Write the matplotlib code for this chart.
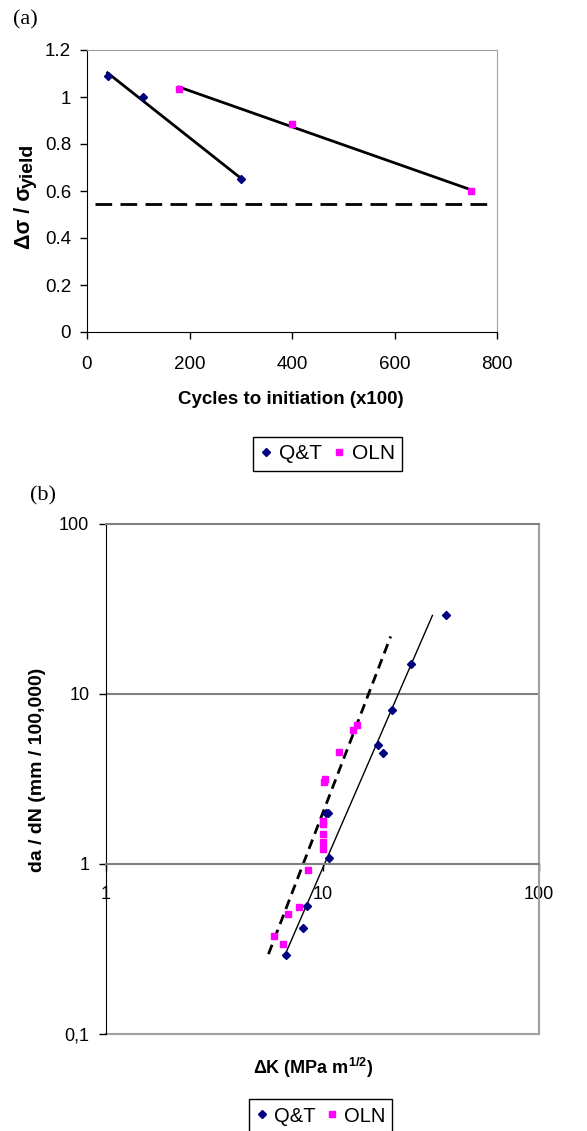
import numpy as np
import matplotlib.pyplot as plt
from matplotlib.lines import Line2D
from matplotlib.ticker import NullLocator

plt.rcParams['font.family'] = 'Liberation Sans'
plt.rcParams['mathtext.fontset'] = 'custom'
plt.rcParams['mathtext.rm'] = 'Liberation Sans'
plt.rcParams['mathtext.it'] = 'Liberation Sans:italic'
plt.rcParams['mathtext.bf'] = 'Liberation Sans:bold'

# (a) initiation data
qt_cycles = [40, 110, 300]
qt_stress = [1.09, 1.0, 0.65]
oln_cycles = [180, 400, 750]
oln_stress = [1.035, 0.885, 0.60]
endurance = 0.545
endurance_span = [15, 793]

# (b) crack growth data
qt_dk = [6.78, 8.15, 8.5, 10.4, 10.6, 10.7, 18.0, 19.0, 21.0, 25.7, 37.1]
qt_rate = [0.29, 0.42, 0.57, 2.0, 2.0, 1.09, 5.0, 4.5, 8.1, 15.1, 29.1]
oln_dk = [6.0, 6.57, 6.95, 7.79, 8.54, 10.0, 10.0, 10.0, 10.0, 10.0,
          10.2, 10.3, 11.9, 13.8, 14.4]
oln_rate = [0.378, 0.338, 0.51, 0.56, 0.92, 1.22, 1.34, 1.51, 1.71, 1.79,
            3.02, 3.16, 4.55, 6.1, 6.55]
qt_trend_dk = [6.64, 32.2]
qt_trend_rate = [0.283, 29.0]
oln_trend_dk = [5.63, 20.65]
oln_trend_rate = [0.295, 21.8]

navy = '#000080'
magenta = '#FF00FF'
W, H = 587, 1131

fig = plt.figure(figsize=(W / 100, H / 100), dpi=100)

# ---------- panel (a) ----------
ax1 = fig.add_axes([87 / W, 1 - 332 / H, 410 / W, 282 / H])
for xs, ys in [(qt_cycles, qt_stress), (oln_cycles, oln_stress)]:
    p = np.polyfit(xs, ys, 1)
    xx = np.array([xs[0], xs[-1]])
    ax1.plot(xx, np.polyval(p, xx), color='black', lw=2, zorder=2)
ax1.plot(qt_cycles, qt_stress, ls='none', marker='D', ms=4.5, color=navy, zorder=3)
ax1.plot(oln_cycles, oln_stress, ls='none', marker='s', ms=5, color=magenta, zorder=3)
ax1.plot(endurance_span, [endurance, endurance], color='black', lw=2,
         ls=(0, (6, 3)))
ax1.set_xlim(0, 800)
ax1.set_ylim(0, 1.2)
ax1.set_xticks([0, 200, 400, 600, 800])
ax1.set_yticks([0, 0.2, 0.4, 0.6, 0.8, 1.0, 1.2])
ax1.set_yticklabels(['0', '0.2', '0.4', '0.6', '0.8', '1', '1.2'])
ax1.tick_params(axis='both', direction='out', length=5, width=1, labelsize=13.5)
ax1.tick_params(axis='x', pad=12.5)
ax1.tick_params(axis='y', pad=6.5)
for s in ['top', 'right']:
    ax1.spines[s].set_color('#a0a0a0')
for s in ['left', 'bottom']:
    ax1.spines[s].set_color('black')

fig.text(13 / W, 1 - 20 / H, '(a)', family='Liberation Serif', fontsize=16,
         ha='left', va='center')
fig.text(291 / W, 1 - 400 / H, 'Cycles to initiation (x100)', fontsize=13.5,
         fontweight='bold', ha='center', va='center')
# y label of (a): main part plus a lowered "yield" subscript
fig.text(24 / W, 1 - 249 / H, 'Δσ / σ', fontsize=15.5, fontweight='bold',
         rotation=90, ha='center', va='bottom')
fig.text(28 / W, 1 - 188 / H, 'yield', fontsize=14, fontweight='bold',
         rotation=90, ha='center', va='bottom')

h_qt = Line2D([], [], ls='none', marker='D', ms=4.5, color=navy)
h_oln = Line2D([], [], ls='none', marker='s', ms=5, color=magenta)
leg = fig.legend([h_qt, h_oln], ['Q&T', 'OLN'], loc='center',
                 bbox_to_anchor=(327.5 / W, 1 - 454 / H), ncol=2,
                 fancybox=False, edgecolor='black', framealpha=1, fontsize=15,
                 handlelength=0.6, handletextpad=0.3, columnspacing=0.55,
                 borderpad=0.35)
leg.get_frame().set_linewidth(1)

# ---------- panel (b) ----------
ax2 = fig.add_axes([106 / W, 1 - 1034 / H, 433 / W, 510 / H])
ax2.set_xscale('log')
ax2.set_yscale('log')
ax2.plot(qt_trend_dk, qt_trend_rate, color='black', lw=1, zorder=2)
ax2.plot(oln_trend_dk, oln_trend_rate, color='black', lw=2,
         ls=(0, (3.6, 2.2)), zorder=2)
ax2.plot(oln_dk, oln_rate, ls='none', marker='s', ms=5, color=magenta, zorder=3)
ax2.plot(qt_dk, qt_rate, ls='none', marker='D', ms=4.5, color=navy, zorder=3)
ax2.set_xlim(1, 100)
ax2.set_ylim(0.1, 100)
ax2.xaxis.set_minor_locator(NullLocator())
ax2.yaxis.set_minor_locator(NullLocator())
ax2.set_xticks([1, 10, 100])
ax2.set_xticklabels(['1', '10', '100'])
ax2.set_yticks([0.1, 1, 10, 100])
ax2.set_yticklabels(['0,1', '1', '10', '100'])
ax2.axhline(10, color='#808080', lw=1.5, zorder=1)
ax2.axhline(0.1, color='#a0a0a0', lw=1.5, clip_on=False, zorder=1)
ax2.spines['bottom'].set_position(('data', 1))
ax2.spines['bottom'].set_color('#808080')
ax2.spines['bottom'].set_linewidth(1.5)
ax2.spines['top'].set_color('#808080')
ax2.spines['top'].set_linewidth(1.5)
ax2.spines['right'].set_color('#a0a0a0')
ax2.spines['right'].set_linewidth(1.5)
ax2.spines['left'].set_color('black')
ax2.tick_params(axis='both', direction='out', length=5, width=1, labelsize=13)
ax2.tick_params(axis='x', pad=11)
ax2.tick_params(axis='y', pad=7)

fig.text(30 / W, 1 - 496 / H, '(b)', family='Liberation Serif', fontsize=16,
         ha='left', va='center')
fig.text(313 / W, 1 - 1068 / H, r'ΔK (MPa m$^{\mathbf{1/2}}$)', fontsize=13,
         fontweight='bold', ha='center', va='center')
fig.text(38 / W, 1 - 770 / H, 'da / dN (mm / 100,000)', fontsize=14,
         fontweight='bold', rotation=90, ha='center', va='center')

leg2 = fig.legend([h_qt, h_oln], ['Q&T', 'OLN'], loc='center',
                  bbox_to_anchor=(320.5 / W, 1 - 1116 / H), ncol=2,
                  fancybox=False, edgecolor='black', framealpha=1, fontsize=14.5,
                  handlelength=0.6, handletextpad=0.3, columnspacing=0.5,
                  borderpad=0.35)
leg2.get_frame().set_linewidth(1)

fig.savefig('out.png', dpi=100)
